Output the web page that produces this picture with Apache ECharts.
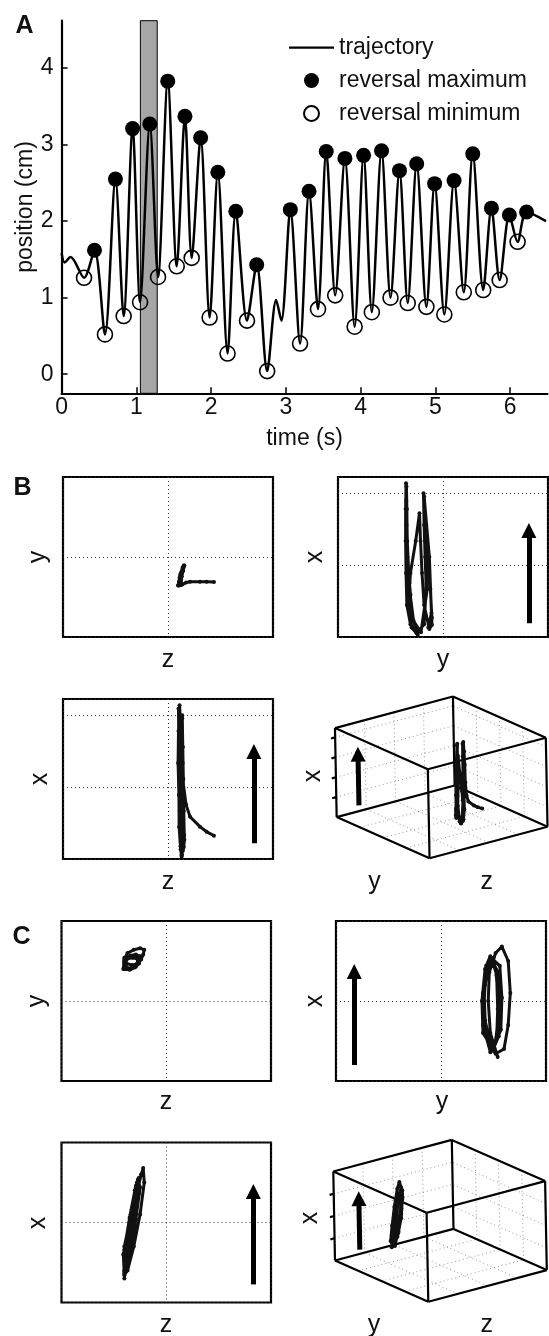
<!DOCTYPE html>
<html><head><meta charset="utf-8">
<script src="https://cdn.jsdelivr.net/npm/echarts@6/dist/echarts.min.js"></script>
<style>html,body{margin:0;padding:0;background:#fff}#chart{width:549px;height:1336px}</style>
</head><body><div id="chart"></div>
<script>
const FONT = '"Liberation Sans", Arial, Helvetica, sans-serif';

// ---------- Panel A data ----------
const trajTime = [0, 0.04, 0.12, 0.30, 0.44, 0.58, 0.72, 0.83, 0.95, 1.05, 1.18, 1.29, 1.42, 1.54, 1.65, 1.74, 1.86, 1.98, 2.09, 2.22, 2.33, 2.48, 2.61, 2.75, 2.87, 2.94, 3.06, 3.19, 3.31, 3.43, 3.54, 3.66, 3.79, 3.92, 4.04, 4.15, 4.28, 4.40, 4.52, 4.63, 4.75, 4.88, 4.99, 5.12, 5.25, 5.38, 5.50, 5.64, 5.75, 5.86, 5.99, 6.10, 6.22, 6.48];
const trajPos  = [1.58, 1.46, 1.53, 1.26, 1.62, 0.52, 2.55, 0.76, 3.21, 0.94, 3.27, 1.27, 3.83, 1.41, 3.37, 1.52, 3.09, 0.74, 2.64, 0.27, 2.13, 0.70, 1.43, 0.04, 0.97, 0.70, 2.15, 0.40, 2.39, 0.85, 2.91, 1.03, 2.82, 0.62, 2.86, 0.81, 2.92, 1.00, 2.66, 0.93, 2.75, 0.88, 2.49, 0.78, 2.53, 1.07, 2.88, 1.10, 2.17, 1.23, 2.08, 1.73, 2.12, 2.00];
const maxTime = [0.44, 0.72, 0.95, 1.18, 1.42, 1.65, 1.86, 2.09, 2.33, 2.61, 3.06, 3.31, 3.54, 3.79, 4.04, 4.28, 4.52, 4.75, 4.99, 5.25, 5.50, 5.75, 5.99, 6.22];
const maxPos  = [1.62, 2.55, 3.21, 3.27, 3.83, 3.37, 3.09, 2.64, 2.13, 1.43, 2.15, 2.39, 2.91, 2.82, 2.86, 2.92, 2.66, 2.75, 2.49, 2.53, 2.88, 2.17, 2.08, 2.12];
const minTime = [0.30, 0.58, 0.83, 1.05, 1.29, 1.54, 1.74, 1.98, 2.22, 2.48, 2.75, 3.19, 3.43, 3.66, 3.92, 4.15, 4.40, 4.63, 4.88, 5.12, 5.38, 5.64, 5.86, 6.10];
const minPos  = [1.26, 0.52, 0.76, 0.94, 1.27, 1.41, 1.52, 0.74, 0.27, 0.70, 0.04, 0.40, 0.85, 1.03, 0.62, 0.81, 1.00, 0.93, 0.88, 0.78, 1.07, 1.10, 1.23, 1.73];
const timeTicks = [0, 1, 2, 3, 4, 5, 6];
const posTicks = [0, 1, 2, 3, 4];
const shadedWindow = [1.054, 1.279];
const legendNames = ['trajectory', 'reversal maximum', 'reversal minimum'];

// ---------- Panels B and C: 3-D trajectories [x, y, z], each axis normalised 0..1 ----------
const trajB = [
 [0.146,0.344,0.719],[0.170,0.345,0.684],[0.202,0.346,0.652],[0.264,0.345,0.605],[0.340,0.340,0.586],
 [0.500,0.330,0.570],[0.700,0.326,0.565],[0.850,0.325,0.560],[0.961,0.324,0.555],
 [0.800,0.322,0.550],[0.600,0.322,0.548],[0.400,0.324,0.552],[0.200,0.328,0.556],[0.080,0.345,0.560],[0.023,0.375,0.565],
 [0.080,0.410,0.568],[0.300,0.420,0.570],[0.500,0.415,0.572],[0.700,0.410,0.570],[0.898,0.407,0.568],
 [0.700,0.420,0.570],[0.500,0.430,0.572],[0.300,0.440,0.575],[0.120,0.447,0.578],[0.075,0.447,0.575],[0.050,0.435,0.570],
 [0.200,0.410,0.565],[0.400,0.400,0.562],[0.600,0.393,0.560],[0.773,0.388,0.558],
 [0.600,0.370,0.555],[0.400,0.345,0.552],[0.200,0.335,0.553],[0.060,0.350,0.560],[0.014,0.380,0.565],
 [0.200,0.335,0.560],[0.500,0.330,0.555],[0.800,0.328,0.552],[0.940,0.326,0.550],
 [0.600,0.330,0.552],[0.300,0.340,0.556],[0.100,0.360,0.562],[0.030,0.395,0.566],
 [0.300,0.425,0.570],[0.600,0.415,0.570],[0.880,0.410,0.568],
 [0.500,0.435,0.573],[0.150,0.445,0.577],[0.060,0.430,0.570]
];
const trajC = [
 [0.15,0.77,0.300],[0.30,0.735,0.310],[0.50,0.725,0.335],[0.68,0.730,0.360],[0.80,0.760,0.380],[0.84,0.790,0.390],[0.75,0.820,0.395],[0.55,0.830,0.375],[0.35,0.820,0.345],[0.20,0.800,0.315],
 [0.17,0.76,0.300],[0.30,0.700,0.295],[0.50,0.695,0.325],[0.70,0.710,0.350],[0.77,0.740,0.365],[0.72,0.780,0.375],[0.52,0.790,0.355],[0.32,0.785,0.330],
 [0.20,0.75,0.300],[0.35,0.700,0.305],[0.55,0.700,0.330],[0.72,0.715,0.355],[0.78,0.735,0.370],[0.68,0.770,0.370],[0.48,0.780,0.350],[0.28,0.775,0.325],
 [0.19,0.745,0.300],[0.33,0.705,0.300],[0.53,0.700,0.325],[0.70,0.720,0.350],[0.76,0.745,0.365],[0.66,0.765,0.360],[0.45,0.770,0.340],[0.27,0.765,0.315],
 [0.20,0.740,0.305],[0.38,0.710,0.310],[0.58,0.705,0.335],[0.73,0.725,0.355],[0.77,0.750,0.370],[0.62,0.770,0.355],[0.42,0.775,0.335],[0.25,0.760,0.310],
 [0.18,0.735,0.300],[0.35,0.700,0.300],[0.60,0.710,0.340],[0.75,0.730,0.360],[0.70,0.760,0.365],[0.50,0.775,0.345],[0.30,0.770,0.320],[0.19,0.750,0.305]
];
// tick positions (normalised) used for the dotted grids
const ticksB = { x: [0.224, 0.448, 0.672, 0.896], y: [0.25, 0.5, 0.75], z: [0.25, 0.5, 0.75] };
const ticksC = { x: [0.25, 0.5, 0.75], y: [0.25, 0.5, 0.75], z: [0.25, 0.5, 0.75] };

// ---------- layout / style ----------
const VIEW = { ax: [-1.7, 89], ay: [-93.3, 41.2], az: [118.5, 31.6] }; // 3-D view projection (px per unit)
const proj = p => [p[0]*VIEW.ax[0] + p[1]*VIEW.ay[0] + p[2]*VIEW.az[0],
                   p[0]*VIEW.ax[1] + p[1]*VIEW.ay[1] + p[2]*VIEW.az[1]];
const BLACK = '#111';
const dotted = { color: '#333', width: 1, type: [1, 3] };

const grids = [
  { left: 61.6, top: 20.7, width: 485.9, height: 372.6 },               // 0 A
  { left: 63, top: 477, width: 210, height: 160 },                        // 1 B1 z-y
  { left: 338, top: 477, width: 210, height: 160 },                       // 2 B2 y-x
  { left: 63, top: 699, width: 210, height: 160 },                        // 3 B3 z-x
  { left: 330, top: 693.3, width: 220, height: 170 },                     // 4 B4 3-D
  { left: 61.5, top: 921, width: 209.5, height: 160 },                    // 5 C1
  { left: 336, top: 921, width: 210, height: 160 },                       // 6 C2
  { left: 61.5, top: 1142.5, width: 209.5, height: 160 },                 // 7 C3
  { left: 328.3, top: 1136.7, width: 220, height: 170 }                   // 8 C4 3-D
];
grids.forEach((g, i) => {
  if (i !== 0 && i !== 4 && i !== 8) Object.assign(g, { show: true, borderColor: '#000', borderWidth: 2.2, backgroundColor: '#fff' });
});

const xAxes = [], yAxes = [];
xAxes.push({
  type: 'value', gridIndex: 0, min: 0, max: 6.5,
  axisLine: { show: true, onZero: false, lineStyle: { color: '#000', width: 2.2 } },
  axisTick: { show: true, inside: true, length: 6, customValues: timeTicks, lineStyle: { color: '#000', width: 1.5 } },
  axisLabel: { customValues: timeTicks, fontSize: 23, color: BLACK, margin: 3, fontFamily: FONT },
  splitLine: { show: false },
  name: 'time (s)', nameLocation: 'middle', nameGap: 34, nameMoveOverlap: false,
  nameTextStyle: { fontSize: 23, color: BLACK, fontFamily: FONT }
});
yAxes.push({
  type: 'value', gridIndex: 0, min: -0.25, max: 4.62,
  axisLine: { show: true, onZero: false, lineStyle: { color: '#000', width: 2.2 } },
  axisTick: { show: true, inside: true, length: 6, customValues: posTicks, lineStyle: { color: '#000', width: 1.5 } },
  axisLabel: { customValues: posTicks, fontSize: 23, color: BLACK, margin: 8, fontFamily: FONT },
  splitLine: { show: false },
  name: 'position (cm)', nameLocation: 'middle', nameGap: 24.5, nameMoveOverlap: false,
  nameTextStyle: { fontSize: 23, color: BLACK, fontFamily: FONT }
});
function unitAxis(gi, step) {
  return { type: 'value', gridIndex: gi, min: 0, max: 1, interval: step,
    axisLine: { show: false }, axisTick: { show: false }, axisLabel: { show: false },
    splitLine: { show: true, lineStyle: dotted } };
}
function hiddenAxis(gi, mn, mx) {
  return { type: 'value', gridIndex: gi, min: mn, max: mx, show: false, splitLine: { show: false } };
}
// B1: z (h) vs y (v); B2: y vs x; B3: z vs x
xAxes.push(unitAxis(1, 0.5)); yAxes.push(unitAxis(1, 0.5));
xAxes.push(unitAxis(2, 0.5)); yAxes.push(unitAxis(2, 0.448));
xAxes.push(unitAxis(3, 0.5)); yAxes.push(unitAxis(3, 0.448));
xAxes.push(hiddenAxis(4, -100, 120)); yAxes.push(hiddenAxis(4, -5, 165));
xAxes.push(unitAxis(5, 0.5)); yAxes.push(unitAxis(5, 0.5));
xAxes.push(unitAxis(6, 0.5)); yAxes.push(unitAxis(6, 0.5));
xAxes.push(unitAxis(7, 0.5)); yAxes.push(unitAxis(7, 0.5));
xAxes.push(hiddenAxis(8, -100, 120)); yAxes.push(hiddenAxis(8, -5, 165));

const series = [];
// Panel A
series.push({
  name: legendNames[0], type: 'line', xAxisIndex: 0, yAxisIndex: 0,
  data: trajTime.map((t, i) => [t, trajPos[i]]),
  smooth: 0.3, symbol: 'none', showSymbol: false, z: 3,
  lineStyle: { color: '#000', width: 2.5 }, itemStyle: { color: '#000' },
  markArea: { silent: true, z: 1, itemStyle: { color: '#a6a6a6', borderColor: '#000', borderWidth: 1 },
    data: [[{ xAxis: shadedWindow[0] }, { xAxis: shadedWindow[1] }]] }
});
series.push({
  name: legendNames[1], type: 'scatter', xAxisIndex: 0, yAxisIndex: 0, z: 4,
  data: maxTime.map((t, i) => [t, maxPos[i]]), symbol: 'circle', symbolSize: 15,
  itemStyle: { color: '#000', opacity: 1 }
});
series.push({
  name: legendNames[2], type: 'scatter', xAxisIndex: 0, yAxisIndex: 0, z: 4,
  data: minTime.map((t, i) => [t, minPos[i]]), symbol: 'circle', symbolSize: 15,
  itemStyle: { color: 'rgba(0,0,0,0)', borderColor: '#000', borderWidth: 1.6, opacity: 1 }
});

function trajSeries(ai, pts) {
  return { type: 'line', xAxisIndex: ai, yAxisIndex: ai, data: pts, clip: false,
    symbol: 'circle', symbolSize: 4, showSymbol: true, z: 5,
    lineStyle: { color: BLACK, width: 3 }, itemStyle: { color: BLACK } };
}
function arrowSeries(ai, from, to) {
  return { type: 'lines', coordinateSystem: 'cartesian2d', xAxisIndex: ai, yAxisIndex: ai,
    symbol: ['none', 'triangle'], symbolSize: [0, 15], silent: true, z: 6,
    lineStyle: { color: '#000', width: 5, opacity: 1 },
    data: [{ coords: [from, to] }] };
}
// 2-D projections
const XI = 0, YI = 1, ZI = 2;
const pair = (pts, h, v) => pts.map(p => [p[h], p[v]]);
series.push(trajSeries(1, pair(trajB, ZI, YI)));
series.push(trajSeries(2, pair(trajB, YI, XI)));
series.push(trajSeries(3, pair(trajB, ZI, XI)));
series.push(trajSeries(5, pair(trajC, ZI, YI)));
series.push(trajSeries(6, pair(trajC, YI, XI)));
series.push(trajSeries(7, pair(trajC, ZI, XI)));
// arrows (direction of the x axis)
series.push(arrowSeries(2, [0.909, 0.086], [0.909, 0.665]));
series.push(arrowSeries(3, [0.909, 0.098], [0.909, 0.672]));
series.push(arrowSeries(6, [0.087, 0.100], [0.087, 0.684]));
series.push(arrowSeries(7, [0.916, 0.113], [0.916, 0.693]));

// 3-D boxes
function cubeEdges() {
  const e = [];
  for (let k = 0; k < 3; k++) {
    const o = [0, 1, 2].filter(i => i !== k);
    for (let u = 0; u < 2; u++) for (let v = 0; v < 2; v++) {
      const p0 = [0, 0, 0], p1 = [0, 0, 0];
      p0[o[0]] = p1[o[0]] = u; p0[o[1]] = p1[o[1]] = v; p1[k] = 1;
      e.push({ coords: [proj(p0), proj(p1)] });
    }
  }
  return e;
}
function backGrid(t) {
  const seg = [];
  const add = (a, b) => seg.push({ coords: [proj(a), proj(b)] });
  t.z.forEach(c => { add([0, 1, c], [1, 1, c]); add([0, 0, c], [0, 1, c]); });
  t.y.forEach(b => { add([0, b, 1], [1, b, 1]); add([0, b, 0], [0, b, 1]); });
  t.x.forEach(a => { add([a, 1, 0], [a, 1, 1]); add([a, 0, 1], [a, 1, 1]); });
  return seg;
}
function tickMarks(t) {
  return t.x.map(a => ({ coords: [proj([a, 1, 0]), proj([a, 1, -0.035])] }));
}
function box3D(ai, pts, t, arrowFrom, arrowTo) {
  series.push({ type: 'lines', coordinateSystem: 'cartesian2d', xAxisIndex: ai, yAxisIndex: ai, silent: true, z: 2,
    lineStyle: dotted, data: backGrid(t) });
  series.push({ type: 'lines', coordinateSystem: 'cartesian2d', xAxisIndex: ai, yAxisIndex: ai, silent: true, z: 3,
    lineStyle: { color: '#000', width: 2.2, opacity: 1 }, data: cubeEdges().concat(tickMarks(t)) });
  series.push(trajSeries(ai, pts.map(proj)));
  series.push(arrowSeries(ai, proj(arrowFrom), proj(arrowTo)));
}
box3D(4, trajB, ticksB, [0.064, 1, 0.19], [0.64, 1, 0.19]);
box3D(8, trajC, ticksC, [0.048, 1, 0.21], [0.62, 1, 0.21]);

// ---------- text labels ----------
function txt(t, x, y, rot, bold) {
  return { type: 'text', x, y, rotation: rot || 0, silent: true, z: 10,
    style: { text: t, fontSize: 25, fontWeight: bold ? 'bold' : 'normal',
      fontFamily: FONT, fill: BLACK, align: 'center', verticalAlign: 'middle' } };
}
const R = Math.PI / 2;
const graphics = [
  txt('A', 24.5, 26, 0, true), txt('B', 22.5, 488, 0, true), txt('C', 21.5, 937, 0, true),
  txt('y', 38.5, 557, R), txt('z', 168, 660),
  txt('x', 315, 557, R), txt('y', 443, 660),
  txt('x', 40, 779, R), txt('z', 168, 882),
  txt('x', 313, 776, R), txt('y', 374.6, 882), txt('z', 486.7, 882),
  txt('y', 37, 1001, R), txt('z', 166, 1102),
  txt('x', 315, 1001, R), txt('y', 442, 1102),
  txt('x', 38.5, 1223, R), txt('z', 166, 1325),
  txt('x', 310, 1218, R), txt('y', 374, 1325), txt('z', 486.7, 1325)
];

const chart = echarts.init(document.getElementById('chart'), null, { renderer: 'canvas' });
chart.setOption({
  backgroundColor: '#fff',
  animation: false,
  grid: grids,
  xAxis: xAxes,
  yAxis: yAxes,
  legend: {
    data: [
      { name: legendNames[0], icon: 'path://M0,0L100,0L100,5L0,5Z' },
      { name: legendNames[1] },
      { name: legendNames[2] }
    ],
    orient: 'vertical', left: 284, top: 31,
    itemWidth: 45, itemHeight: 15, itemGap: 10, selectedMode: false,
    textStyle: { fontSize: 23, color: BLACK, fontFamily: FONT, lineHeight: 22 }
  },
  series: series,
  graphic: graphics
});
</script></body></html>
